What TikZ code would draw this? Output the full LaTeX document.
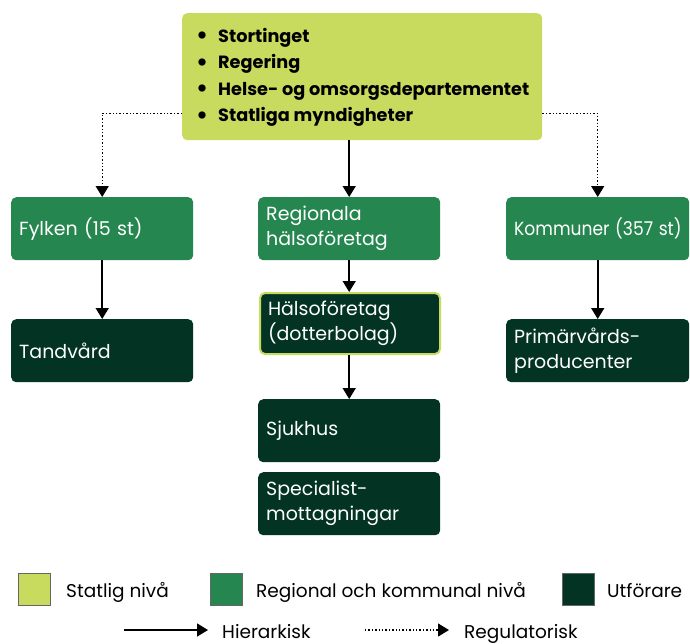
\documentclass[tikz,border=0pt]{standalone}
\usepackage{fontspec}
\usepackage{graphicx}
\setmainfont{Poppins}
\usetikzlibrary{arrows.meta}
\definecolor{lgreen}{HTML}{C9DB5F}
\definecolor{mgreen}{HTML}{25874F}
\definecolor{dgreen}{HTML}{033323}
\newcommand{\bigbul}{\makebox[22pt][l]{\raisebox{-1.2pt}{\fontsize{24}{0}\selectfont\textbullet}}}
\tikzset{
  box/.style={rounded corners=5pt, anchor=north west, minimum width=182pt, minimum height=63pt,
    text width=166pt, align=left, inner xsep=8pt, inner ysep=0pt, text=white,
    font=\fontsize{19}{25}\selectfont},
  mbox/.style={box, fill=mgreen},
  dbox/.style={box, fill=dgreen},
  harr/.style={-{Triangle[width=13pt,length=11pt]}, line width=1.6pt, black},
  rarr/.style={-{Triangle[width=13pt,length=11pt]}, line width=1.4pt, black, dotted},
  legsq/.style={anchor=north west, minimum width=32pt, minimum height=32pt, inner sep=0pt, draw=black!60, line width=0.5pt},
  legtxt/.style={anchor=base west, inner sep=0pt, font=\fontsize{18.5}{23}\selectfont}
}
\begin{document}
\begin{tikzpicture}[x=1pt,y=-1pt]
\useasboundingbox (0,0) rectangle (690,643);
\node[fill=lgreen, rounded corners=5pt, anchor=north west, minimum width=360pt, minimum height=127pt, inner sep=0pt] (stat) at (182,13) {};
\node[anchor=north west, align=left, inner sep=0pt, font=\bfseries\fontsize{17.7}{26.5}\selectfont] (stattext) at (196,28)
 {\bigbul Stortinget\\
  \bigbul Regering\\
  \bigbul Helse- og omsorgsdepartementet\\
  \bigbul Statliga myndigheter};

\node[mbox] (fylken) at (11,197) {Fylken (15 st)};
\node[mbox] (reg) at (258,197) {Regionala\\hälsoföretag};
\node[mbox, minimum width=183pt, text width=167pt] (komm) at (506,197) {\scalebox{0.9}[1]{Kommuner (357 st)}};

\node[dbox] (tand) at (11,319) {Tandvård};
\node[dbox, draw=lgreen, line width=2pt, minimum height=61pt, minimum width=180pt, text width=164pt] (halso) at (259,292) {Hälsoföretag\\(dotterbolag)};
\node[dbox, minimum width=183pt, text width=167pt] (prim) at (506,319) {Primärvårds-\\producenter};
\node[dbox] (sjuk) at (258,399) {Sjukhus};
\node[dbox] (spec) at (258,472) {Specialist-\\mottagningar};

\draw[harr] (stat.south -| reg.north) -- (reg.north);
\draw[rarr] ([yshift=-36.5pt]stat.west) -| (fylken.north);
\draw[rarr] ([yshift=-36.5pt]stat.east) -| (prim.north |- komm.north);
\draw[harr] (fylken.south) -- (fylken.south |- tand.north);
\draw[harr] (prim.north |- komm.south) -- (prim.north);
\draw[harr] (reg.south) -- (reg.south |- halso.north);
\draw[harr] (reg.south |- halso.south) -- (reg.south |- sjuk.north);

% legend
\node[legsq, fill=lgreen] (l1) at (18,573) {};
\node[legtxt] (l1t) at (66,597) {Statlig nivå};
\node[legsq, fill=mgreen] (l2) at (210,573) {};
\node[legtxt] (l2t) at (256,597) {Regional och kommunal nivå};
\node[legsq, fill=dgreen] (l3) at (562,573) {};
\node[legtxt] (l3t) at (607,597) {Utförare};
\coordinate (a1s) at (124,630);
\coordinate (a1e) at (208,630);
\node[legtxt] (h) at (222,638) {Hierarkisk};
\draw[harr] (a1s) -- (a1e);
\coordinate (a2s) at (365,630);
\coordinate (a2e) at (449,630);
\node[legtxt] (r) at (464,638) {Regulatorisk};
\draw[rarr] (a2s) -- (a2e);
\end{tikzpicture}
\end{document}
